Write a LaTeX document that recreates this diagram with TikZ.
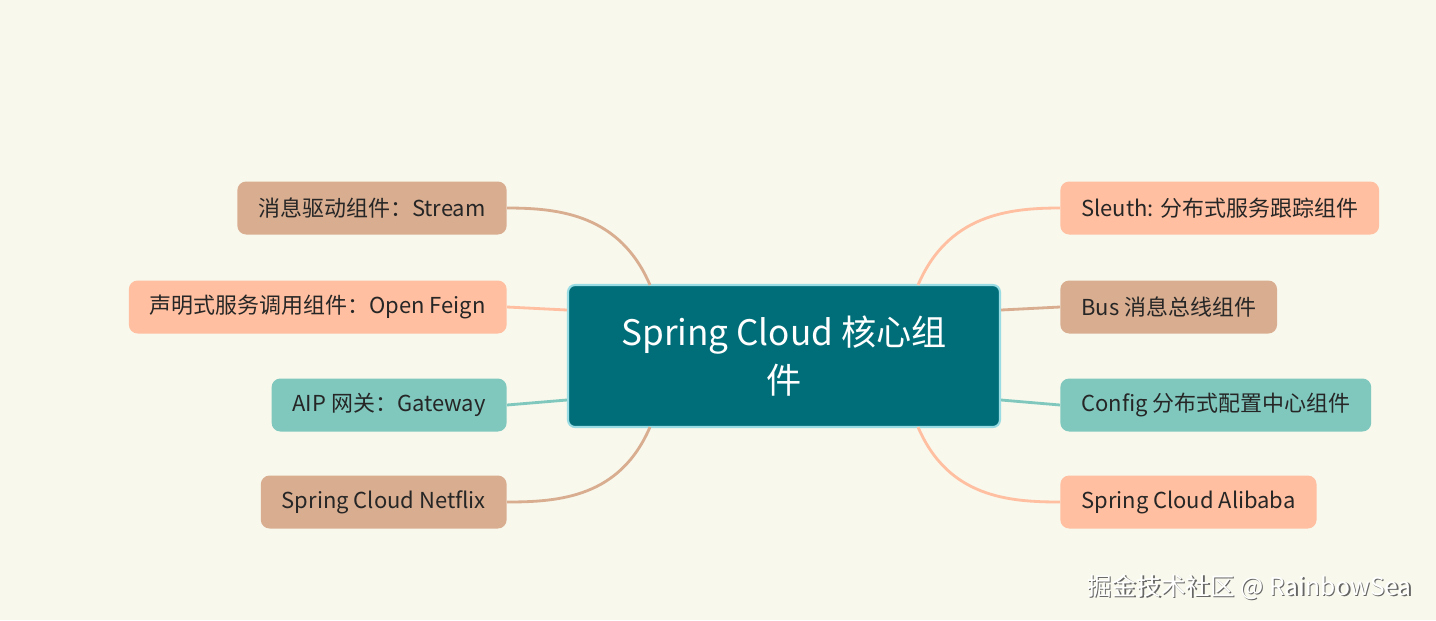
\documentclass[tikz,border=0pt]{standalone}
\usepackage{fontspec}
\setmainfont{Noto Sans CJK SC}
\usepackage{tikz}
\usetikzlibrary{positioning}
\definecolor{bgc}{HTML}{F8F8EC}
\definecolor{hub}{HTML}{006E78}
\definecolor{hubline}{HTML}{9ADCE4}
\definecolor{tan}{HTML}{D8AD90}
\definecolor{peach}{HTML}{FFBFA0}
\definecolor{teal}{HTML}{80C8BE}
\tikzset{
  leaf/.style={rounded corners=5pt, minimum height=1.06cm, inner xsep=0.42cm, font=\fontsize{12.5}{14}\selectfont, text=black!85},
  lk/.style={line width=1.6pt},
}
\begin{document}
\begin{tikzpicture}[x=0.02cm, y=-0.02cm]
  \fill[bgc] (0,0) rectangle (1436,620);
  \useasboundingbox (0,0) rectangle (1436,620);

  % hub
  \node[fill=hub, draw=hubline, line width=1.2pt, rounded corners=4pt, minimum width=8.64cm, minimum height=2.84cm, align=center, text=white, font=\fontsize{20}{27}\selectfont] (hub) at (784,356) {Spring Cloud 核心组\\件};

  % left branches
  \node[leaf, fill=tan, anchor=east] (stream) at (507,208) {消息驱动组件：Stream};
  \node[leaf, fill=peach, anchor=east] (feign) at (507,307) {声明式服务调用组件：Open Feign};
  \node[leaf, fill=teal, anchor=east] (gateway) at (507,405) {AIP 网关：Gateway};
  \node[leaf, fill=tan, anchor=east] (netflix) at (507,502) {Spring Cloud Netflix};

  % right branches
  \node[leaf, fill=peach, anchor=west] (sleuth) at (1060,208) {Sleuth: 分布式服务跟踪组件};
  \node[leaf, fill=tan, anchor=west] (bus) at (1060,307) {Bus 消息总线组件};
  \node[leaf, fill=teal, anchor=west] (config) at (1060,405) {Config 分布式配置中心组件};
  \node[leaf, fill=peach, anchor=west] (alibaba) at (1060,502) {Spring Cloud Alibaba};

  \coordinate (hubtl) at (650,285);
  \coordinate (hubbl) at (650,427);
  \coordinate (hubtr) at (918,285);
  \coordinate (hubbr) at (918,427);

  \draw[lk, tan] (hubtl) .. controls (620,215) and (560,208) .. (stream.east);
  \draw[lk, peach] (hub.west |- feign) ++(0,3) -- (feign.east);
  \draw[lk, teal] (hub.west |- gateway) ++(0,-5) -- (gateway.east);
  \draw[lk, tan] (hubbl) .. controls (620,497) and (560,502) .. (netflix.east);
  \draw[lk, peach] (hubtr) .. controls (948,215) and (1008,208) .. (sleuth.west);
  \draw[lk, tan] (hub.east |- bus) ++(0,3) -- (bus.west);
  \draw[lk, teal] (hub.east |- config) ++(0,-5) -- (config.west);
  \draw[lk, peach] (hubbr) .. controls (948,497) and (1008,502) .. (alibaba.west);

  \node[anchor=east, text=white, draw=none, font=\fontsize{14}{16}\selectfont] (markbg) at (1419.5,588.5) {\textcolor{black!60}{掘金技术社区 @ RainbowSea}};
  \node[anchor=east, text=white, font=\fontsize{14}{16}\selectfont] (mark) at (1418,587) {掘金技术社区 @ RainbowSea};
\end{tikzpicture}
\end{document}
